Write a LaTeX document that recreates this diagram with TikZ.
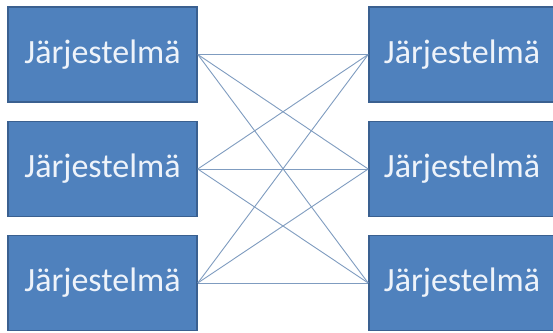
\documentclass[tikz,border=0pt]{standalone}
\usepackage{fontspec}
\setmainfont{Carlito}
\definecolor{boxfill}{HTML}{4F81BD}
\definecolor{boxdraw}{HTML}{3A6090}
\definecolor{linkc}{HTML}{7F9CC0}
\definecolor{txtc}{HTML}{EEF3FA}
\begin{document}
\begin{tikzpicture}[x=1pt,y=-1pt,
  sysbox/.style={draw=boxdraw,fill=boxfill,line width=1.6pt,minimum width=189pt,minimum height=95pt,inner sep=0pt,
    font=\fontsize{34}{40}\selectfont,text=txtc},
  link/.style={draw=linkc,line width=0.9pt}]
\useasboundingbox (0,0) rectangle (553,332);
\fill[white] (0,0) rectangle (553,332);
\node[sysbox] (L1) at (102.5,54.5) {Järjestelmä};
\node[sysbox] (L2) at (102.5,169) {Järjestelmä};
\node[sysbox] (L3) at (102.5,283) {Järjestelmä};
\node[sysbox,minimum width=186pt] (R1) at (462,54.5) {Järjestelmä};
\node[sysbox,minimum width=186pt] (R2) at (462,169) {Järjestelmä};
\node[sysbox,minimum width=186pt] (R3) at (462,283) {Järjestelmä};
\foreach \a in {1,2,3}{
  \foreach \b in {1,2,3}{
    \draw[link] (L\a.east) -- (R\b.west);
  }
}
\end{tikzpicture}
\end{document}
